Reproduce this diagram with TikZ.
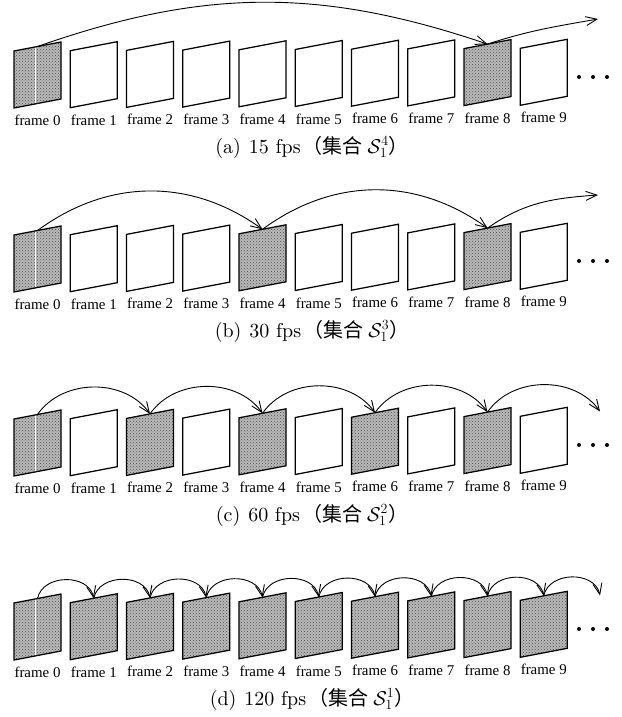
\RequirePackage{fix-cm}
\documentclass[tikz,border=0pt]{standalone}
\usepackage{fontspec}
\newfontfamily\labelfont{Liberation Serif}
\newfontfamily\capfont{lmroman10-regular}[Extension=.otf]
\newfontfamily\cjkfont{Noto Sans CJK SC}
\usetikzlibrary{arrows.meta,patterns}

\begin{document}
\begin{tikzpicture}[x=1pt,y=1pt,
  border/.style={draw=black,line width=1.25pt,line join=miter},
  shadedframe/.style={preaction={fill=black!27},pattern=crosshatch dots,pattern color=black!70},
  seam/.style={draw=white,line width=0.6pt},
  link/.style={-{Straight Barb[length=11pt,width=9pt]},line width=0.9pt},
  lbl/.style={font=\labelfont\fontsize{14.9}{17}\selectfont,inner sep=0pt,anchor=base},
  captext/.style={font=\capfont\fontsize{20}{22}\selectfont,inner sep=0pt,anchor=base}]
\useasboundingbox (0,0) rectangle (621,-717);

% four rows of ten frames each
\foreach \r in {0,1,2,3}{
  \foreach \i in {0,...,10}{
    \pgfmathsetmacro\xl{14+56.25*\i}
    \pgfmathsetmacro\yt{-(51-0.3*\i+184*\r)}
    \coordinate (t-\r-\i) at (\xl+23.5,\yt+4.5);
  }
  \foreach \i in {0,...,9}{
    \pgfmathsetmacro\xl{14+56.25*\i}
    \pgfmathsetmacro\yt{-(51-0.3*\i+184*\r)}
    \pgfmathsetmacro\yb{-(125.5-0.3*\i+184*\r)}
    \path[fill=white] (\xl,\yt) -- ++(47,9) -- ++(0,-57) -- ++(-47,-9) -- cycle;
    \node[lbl] (l-\r-\i) at (\xl+23.5,\yb) {frame \i};
  }
  % ellipsis after the last frame
  \foreach \dx in {579,593,607}
    \fill (\dx,{-(77+184*\r)}) circle (2);
}

% shaded (selected) frames
\foreach \r/\sel in {0/{0,8},1/{0,4,8},2/{0,2,4,6,8},3/{0,1,2,3,4,5,6,7,8,9}}{
  \foreach \i in \sel{
    \pgfmathsetmacro\xl{14+56.25*\i}
    \pgfmathsetmacro\yt{-(51-0.3*\i+184*\r)}
    \path[shadedframe] (\xl,\yt) -- ++(47,9) -- ++(0,-57) -- ++(-47,-9) -- cycle;
  }
  % thin light seam in the first frame
  \pgfmathsetmacro\yt{-(51+184*\r)}
  \draw[seam] (35,\yt+4) -- ++(0,-57);
}

% frame outlines
\foreach \r in {0,1,2,3}{
  \foreach \i in {0,...,9}{
    \pgfmathsetmacro\xl{14+56.25*\i}
    \pgfmathsetmacro\yt{-(51-0.3*\i+184*\r)}
    \draw[border] (\xl,\yt) -- ++(47,9) -- ++(0,-57) -- ++(-47,-9) -- cycle;
  }
}

% free ends of the last arrows in rows (a) and (b)
\coordinate (e-0) at (598,-19);
\coordinate (e-1) at (598,-195);

% row (a): every 8th frame
\draw[link] (t-0-0) to[bend left=19] (t-0-8);
\draw[link] (t-0-8) to[out=18,in=190] (e-0);

% row (b): every 4th frame
\draw[link] (t-1-0) to[bend left=36] (t-1-4);
\draw[link] (t-1-4) to[bend left=36] (t-1-8);
\draw[link] (t-1-8) to[out=35,in=184] (e-1);

% row (c): every 2nd frame
\foreach \i [evaluate=\i as \j using int(\i+2)] in {0,2,4,6,8}
  \draw[link] (t-2-\i) to[bend left=55] (t-2-\j);

% row (d): every frame
\foreach \i [evaluate=\i as \j using int(\i+1)] in {0,...,9}
  \draw[link] (t-3-\i) to[out=78,in=102,looseness=1.15] (t-3-\j);

% captions
\node[captext] (cap-a) at (312,-153) {(a)\hspace{0.4em}15 fps\hspace{0.1em}{\cjkfont （集合}\hspace{0.25em}$\mathcal{S}_1^4${\cjkfont ）}};
\node[captext] (cap-b) at (312,-337) {(b)\hspace{0.4em}30 fps\hspace{0.1em}{\cjkfont （集合}\hspace{0.25em}$\mathcal{S}_1^3${\cjkfont ）}};
\node[captext] (cap-c) at (312,-521) {(c)\hspace{0.4em}60 fps\hspace{0.1em}{\cjkfont （集合}\hspace{0.25em}$\mathcal{S}_1^2${\cjkfont ）}};
\node[captext] (cap-d) at (312,-705) {(d)\hspace{0.4em}120 fps\hspace{0.1em}{\cjkfont （集合}\hspace{0.25em}$\mathcal{S}_1^1${\cjkfont ）}};
\end{tikzpicture}
\end{document}
